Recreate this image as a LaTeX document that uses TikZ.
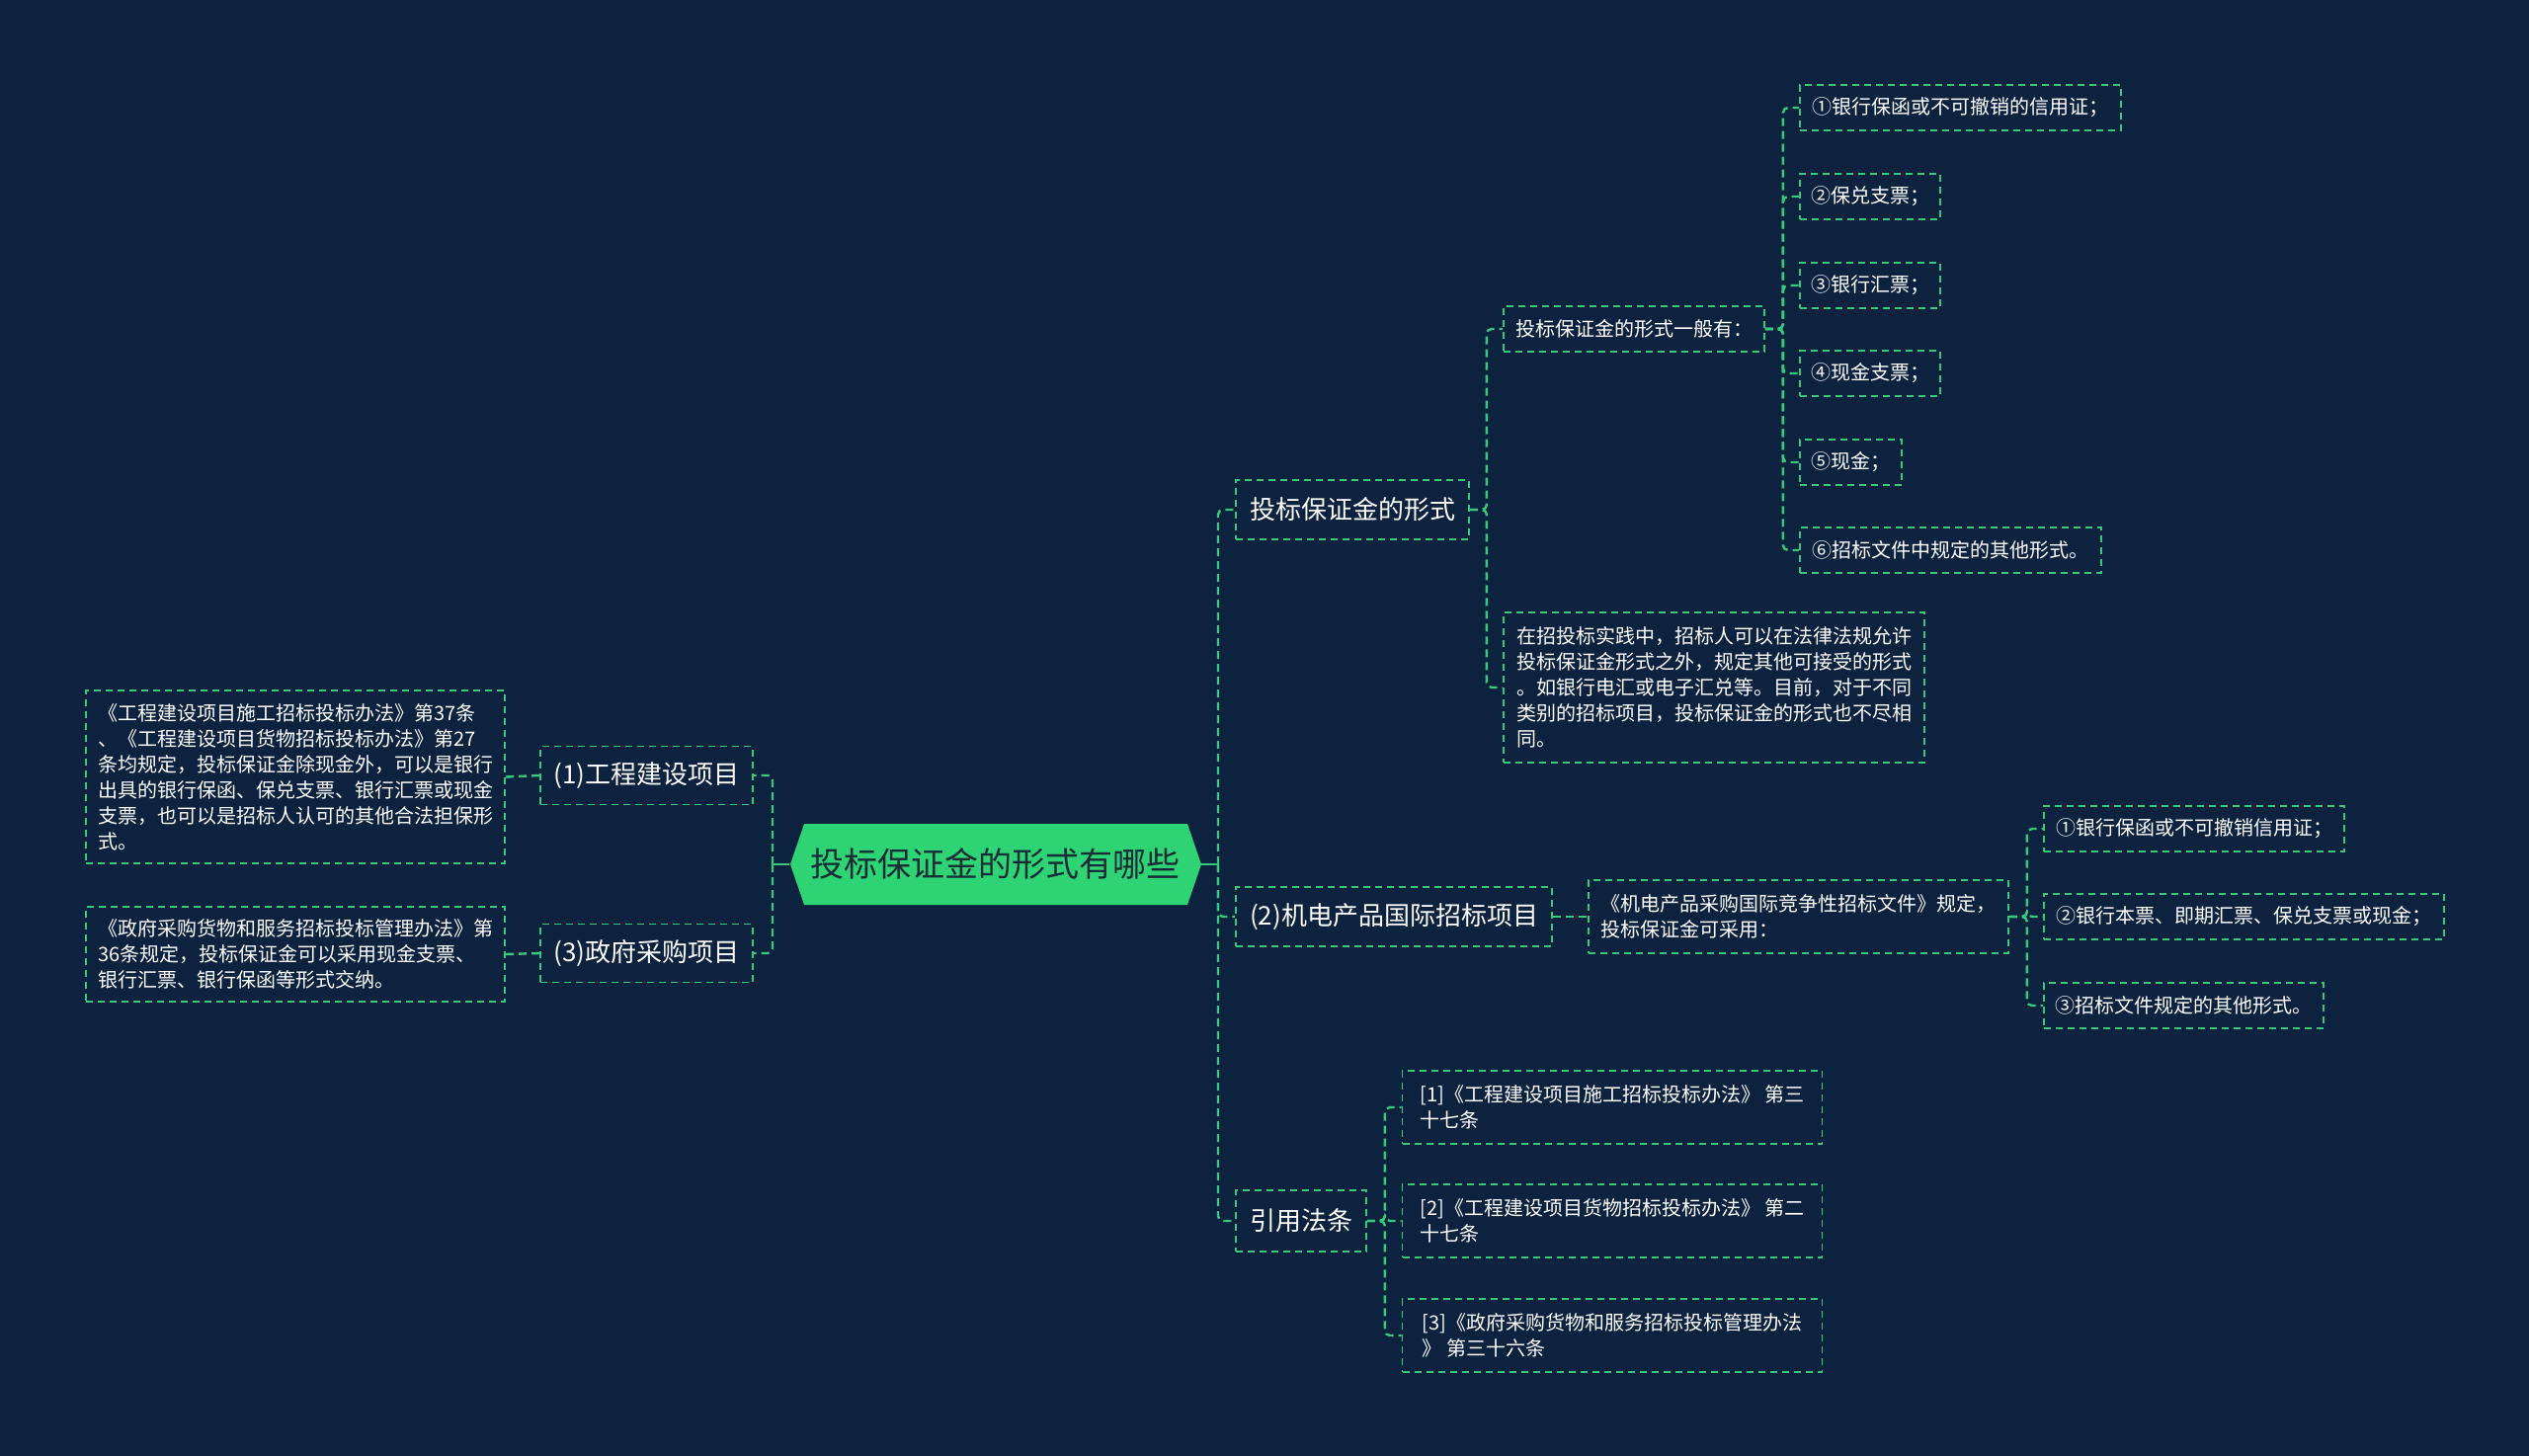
\documentclass[tikz,border=0pt]{standalone}
\usepackage{fontspec}
\setmainfont{Noto Sans CJK SC}
\newcommand\myfs[2]{\fontsize{#1pt}{#2pt}\selectfont}
\definecolor{bgc}{RGB}{12,34,62}
\definecolor{lineg}{RGB}{56,200,122}
\definecolor{rootg}{RGB}{46,212,116}
\definecolor{roottxt}{RGB}{24,44,56}
\tikzset{
  box/.style={draw=lineg, dash pattern=on 7pt off 5pt, line width=1.8pt, text=white,
    font=\myfs{20}{26}, align=left, inner sep=0pt},
  lvl/.style={box, font=\myfs{26}{32}},
  conn/.style={draw=lineg, line width=2.4pt, dash pattern=on 8pt off 5pt, rounded corners=5pt},
  solidc/.style={draw=lineg, line width=2.6pt},
}
\begin{document}
\begin{tikzpicture}[x=1pt,y=-1pt]
\fill[bgc] (0,0) rectangle (2560,1474);
\useasboundingbox (0,0) rectangle (2560,1474);

% root
\fill[rootg] (800,875) -- (814,834) -- (1202,834) -- (1216,875) -- (1202,916) -- (814,916) -- cycle;
\node[minimum width=416pt, minimum height=82pt, inner sep=0pt, text=roottxt, font=\myfs{34}{40}] (root) at (1007,875) {投标保证金的形式有哪些};
\coordinate (lv) at (782,875);
\coordinate (rv) at (1233,875);

% left side
\node[lvl, minimum width=215pt, minimum height=59pt] (n1) at (654.5,785) {(1)工程建设项目};
\node[lvl, minimum width=215pt, minimum height=59pt] (n3) at (654.5,965) {(3)政府采购项目};
\node[box, minimum width=424pt, minimum height=175pt] (L1) at (299,786.5) {《工程建设项目施工招标投标办法》第37条\\、《工程建设项目货物招标投标办法》第27\\条均规定，投标保证金除现金外，可以是银行\\出具的银行保函、保兑支票、银行汇票或现金\\支票，也可以是招标人认可的其他合法担保形\\式。};
\node[box, minimum width=424pt, minimum height=96pt] (L3) at (299,966) {《政府采购货物和服务招标投标管理办法》第\\36条规定，投标保证金可以采用现金支票、\\银行汇票、银行保函等形式交纳。};

% right: A
\node[lvl, minimum width=236pt, minimum height=60pt] (A) at (1369,516) {投标保证金的形式};
\node[box, minimum width=264pt, minimum height=46pt] (A1) at (1654,333) {投标保证金的形式一般有：};
\node[box, minimum width=325pt, minimum height=46pt] (i1) at (1984.5,109) {①银行保函或不可撤销的信用证；};
\node[box, minimum width=142pt, minimum height=46pt] (i2) at (1893,199) {②保兑支票；};
\node[box, minimum width=142pt, minimum height=46pt] (i3) at (1893,289) {③银行汇票；};
\node[box, minimum width=142pt, minimum height=46pt] (i4) at (1893,378) {④现金支票；};
\node[box, minimum width=103pt, minimum height=46pt] (i5) at (1873.5,468) {⑤现金；};
\node[box, minimum width=305pt, minimum height=46pt] (i6) at (1974.5,557) {⑥招标文件中规定的其他形式。};
\node[box, minimum width=426pt, minimum height=152pt] (A2) at (1735,696) {在招投标实践中，招标人可以在法律法规允许\\投标保证金形式之外，规定其他可接受的形式\\。如银行电汇或电子汇兑等。目前，对于不同\\类别的招标项目，投标保证金的形式也不尽相\\同。};

% right: B
\node[lvl, minimum width=320pt, minimum height=60pt] (B) at (1411,928) {(2)机电产品国际招标项目};
\node[box, minimum width=425pt, minimum height=74pt] (B1) at (1820.5,928) {《机电产品采购国际竞争性招标文件》规定，\\投标保证金可采用：};
\node[box, minimum width=304pt, minimum height=46pt] (b1) at (2221,839) {①银行保函或不可撤销信用证；};
\node[box, minimum width=405pt, minimum height=46pt] (b2) at (2271.5,928) {②银行本票、即期汇票、保兑支票或现金；};
\node[box, minimum width=283pt, minimum height=46pt] (b3) at (2210.5,1018) {③招标文件规定的其他形式。};

% right: C
\node[lvl, minimum width=132pt, minimum height=62pt] (C) at (1317,1236) {引用法条};
\node[box, minimum width=425pt, minimum height=74pt] (c1) at (1632,1121) {[1]《工程建设项目施工招标投标办法》 第三\\十七条};
\node[box, minimum width=425pt, minimum height=74pt] (c2) at (1632,1236) {[2]《工程建设项目货物招标投标办法》 第二\\十七条};
\node[box, minimum width=425pt, minimum height=74pt] (c3) at (1632,1352) {[3]《政府采购货物和服务招标投标管理办法\\》 第三十六条};

% connectors: root
\draw[solidc] (root.west) -- (lv);
\draw[solidc] (root.east) -- (rv);
\draw[conn] (lv) |- (n1.east);
\draw[conn] (lv) |- (n3.east);
\draw[conn] (n1.west) -- (L1.east);
\draw[conn] (n3.west) -- (L3.east);
\draw[conn] (rv) |- (A.west);
\draw[conn] (rv) |- (B.west);
\draw[conn] (rv) |- (C.west);

% A group
\draw[conn] (A.east) -- ++(17,0) |- (A1.west);
\draw[conn] (A.east) -- ++(17,0) |- (A2.west);
\foreach \k in {i1,i2,i3,i4,i5,i6}{
  \draw[conn] (A1.east) -- ++(18,0) |- (\k.west);
}
% B group
\draw[conn] (B.east) -- (B1.west);
\foreach \k in {b1,b2,b3}{
  \draw[conn] (B1.east) -- ++(18,0) |- (\k.west);
}
% C group
\foreach \k in {c1,c2,c3}{
  \draw[conn] (C.east) -- ++(18,0) |- (\k.west);
}
\end{tikzpicture}
\end{document}
